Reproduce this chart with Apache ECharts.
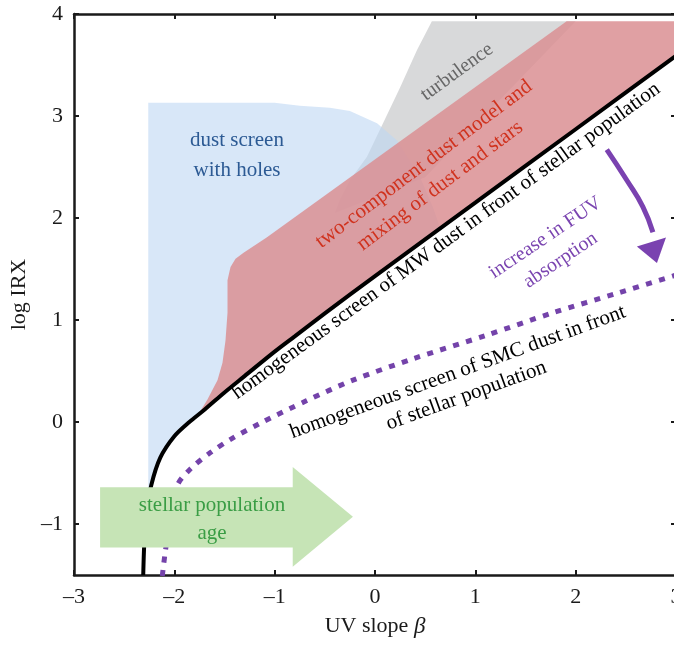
<!DOCTYPE html>
<html>
<head>
<meta charset="utf-8">
<script src="https://cdn.jsdelivr.net/npm/echarts@6/dist/echarts.min.js"></script>
<style>html,body{margin:0;padding:0;background:#fff}#chart{width:674px;height:646px}</style>
</head>
<body>
<div id="chart"></div>
<script>
// ---- data (UV slope beta, log IRX) ----
var xTicks = [-3, -2, -1, 0, 1, 2, 3];
var yTicks = [-1, 0, 1, 2, 3, 4];

// homogeneous screen of MW dust (black curve)
var mwCurve = [[-2.31,-1.5],[-2.30,-1.2],[-2.28,-0.9],[-2.23,-0.62],[-2.14,-0.35],[-2.0,-0.14],[-1.85,0.0],[-1.7,0.12],[-1.5,0.29],[-1.3,0.45],[-1.0,0.69],[-0.8,0.84],[-0.5,1.065],[0,1.43],[1,2.15],[2,2.87],[3,3.59]];

// homogeneous screen of SMC dust (purple dotted curve)
var smcCurve = [[-2.12,-1.51],[-2.09,-1.27],[-2.04,-0.95],[-1.97,-0.62],[-1.84,-0.46],[-1.64,-0.30],[-1.44,-0.17],[-1.14,-0.01],[-0.68,0.21],[-0.22,0.41],[0.38,0.62],[1.11,0.85],[1.77,1.07],[2.44,1.27],[3.0,1.44]];

// dust screen with holes (blue region outline, upper part)
var dustScreenEdge = [[-2.26,-0.75],[-2.26,3.13],[-1.0,3.13],[-0.75,3.10],[-0.45,3.08],[-0.25,3.05],[0.02,2.93],[0.22,2.76],[0.32,2.60],[0.45,2.40],[0.58,2.10],[0.65,1.90]];

// turbulence (grey region)
var turbulenceRegion = [[0.567,3.93],[2.0,3.93],[0.5,2.4],[-0.4,2.05],[-0.35,2.18],[-0.25,2.37],[-0.08,2.60],[0.08,2.93],[0.25,3.28],[0.42,3.65]];

// two-component dust model (red region, upper/left outline)
var twoComponentEdge = [[-1.77,0.06],[-1.67,0.22],[-1.57,0.41],[-1.52,0.58],[-1.49,0.80],[-1.47,1.07],[-1.47,1.39],[-1.44,1.52],[-1.39,1.60],[-1.31,1.66],[-1.08,1.81],[1.91,3.93],[3.0,3.93]];

// stellar population age arrow (green)
var ageArrow = [[-2.74,-0.64],[-0.82,-0.64],[-0.82,-0.44],[-0.22,-0.93],[-0.82,-1.42],[-0.82,-1.23],[-2.74,-1.23]];

// increase in FUV absorption arrow (purple)
var fuvArrowShaft = [[2.31,2.67],[2.51,2.37],[2.67,2.11],[2.77,1.86]];
var fuvArrowHead = [[2.61,1.72],[2.90,1.81],[2.81,1.56]];

function fmt(v){ return v < 0 ? '\u2013' + Math.abs(v) : String(v); }

var blueRegion = dustScreenEdge.concat(
  mwCurve.filter(function(p){ return p[0] <= 0.65 && p[0] > -2.26; }).slice().reverse()
);
var redRegion = twoComponentEdge.concat(
  mwCurve.filter(function(p){ return p[0] >= -1.77; }).slice().reverse()
);

function polygonSeries(name, pts, color, opacity, z) {
  return {
    type: 'custom', name: name, z: z, silent: true, clip: true,
    coordinateSystem: 'cartesian2d', xAxisIndex: 0, yAxisIndex: 0,
    data: [[pts[0][0], pts[0][1]]],
    renderItem: function (params, api) {
      return {
        type: 'polygon',
        shape: { points: pts.map(function(p){ return api.coord(p); }) },
        style: { fill: color, opacity: opacity }
      };
    }
  };
}

var SERIF = '"Liberation Serif","DejaVu Serif",serif';
var axisCol = '#1a1a1a';

var chart = echarts.init(document.getElementById('chart'), null, {renderer: 'canvas'});

function baseX(extra){
  return Object.assign({
    type: 'value', min: -3, max: 3, interval: 1,
    axisLine: { show: true, onZero: false, lineStyle: { color: axisCol, width: 2.5 } },
    axisTick: { show: true, inside: true, length: 5, lineStyle: { color: axisCol, width: 2 } },
    splitLine: { show: false }
  }, extra);
}
function baseY(extra){
  return Object.assign({
    type: 'value', min: -1.5, max: 4,
    axisLine: { show: true, onZero: false, lineStyle: { color: axisCol, width: 2.5 } },
    axisTick: { show: true, inside: true, length: 5, customValues: yTicks, lineStyle: { color: axisCol, width: 2 } },
    splitLine: { show: false }
  }, extra);
}

var option = {
  animation: false,
  backgroundColor: '#fff',
  grid: { left: 74, top: 14, width: 602, height: 561, containLabel: false, outerBoundsMode: 'none' },
  xAxis: [
    baseX({ position: 'bottom',
      axisLabel: { show: true, fontFamily: SERIF, fontSize: 22, color: axisCol, margin: 11, formatter: fmt },
      name: '{a|UV slope }{b|\u03b2}', nameLocation: 'middle', nameGap: 40,
      nameTextStyle: { rich: { a: { fontFamily: SERIF, fontSize: 22, color: axisCol }, b: { fontFamily: SERIF, fontSize: 23, fontStyle: 'italic', color: axisCol } } }
    }),
    baseX({ position: 'top', axisLabel: { show: false } })
  ],
  yAxis: [
    baseY({ position: 'left',
      axisLabel: { show: true, customValues: yTicks, fontFamily: SERIF, fontSize: 22, color: axisCol, margin: 11,
        formatter: function(v){ return Math.abs(v - Math.round(v)) < 1e-9 ? fmt(v) : ''; } },
      name: 'log IRX', nameLocation: 'middle', nameGap: 38, nameRotate: 90,
      nameTextStyle: { fontFamily: SERIF, fontSize: 22, color: axisCol }
    }),
    baseY({ position: 'right', axisLabel: { show: false } })
  ],
  series: [
    polygonSeries('turbulence', turbulenceRegion, '#cbccce', 0.75, 1),
    polygonSeries('dust screen with holes', blueRegion, 'rgb(190,215,243)', 0.6, 2),
    polygonSeries('two-component dust model', redRegion, 'rgb(218,143,147)', 0.85, 3),
    {
      type: 'line', name: 'MW', data: mwCurve, z: 4, smooth: 0.3, showSymbol: false, silent: true,
      lineStyle: { color: '#000', width: 4 }
    },
    {
      type: 'line', name: 'SMC', data: smcCurve, z: 4, smooth: 0.3, showSymbol: false, silent: true,
      lineStyle: { color: '#7443aa', width: 5, type: [6, 7.5], cap: 'butt' }
    },
    polygonSeries('stellar population age', ageArrow, '#c6e4b6', 1, 5),
    {
      type: 'line', name: 'FUV arrow', data: fuvArrowShaft, z: 5, smooth: 0.5, showSymbol: false, silent: true,
      lineStyle: { color: '#7a42b0', width: 5 }
    },
    polygonSeries('FUV arrow head', fuvArrowHead, '#7a42b0', 1, 5)
  ],
  graphic: [
    { type: 'text', x: 237, y: 155, z: 100, style: { text: 'dust screen\nwith holes', font: '21px ' + SERIF, fill: '#2c5a94', align: 'center', verticalAlign: 'middle', lineHeight: 30 } },
    { type: 'text', x: 457, y: 72, rotation: 36 * Math.PI / 180, z: 100, style: { text: 'turbulence', font: '20px ' + SERIF, fill: '#666', align: 'center', verticalAlign: 'middle' } },
    { type: 'text', x: 432, y: 175, rotation: 37 * Math.PI / 180, z: 100, style: { text: 'two-component dust model and\nmixing of dust and stars', font: '21px ' + SERIF, fill: '#d0321e', align: 'center', verticalAlign: 'middle', lineHeight: 27 } },
    { type: 'text', x: 446, y: 241, rotation: 36 * Math.PI / 180, z: 100, style: { text: 'homogeneous screen of MW dust in front of stellar population', font: '21px ' + SERIF, fill: '#000', align: 'center', verticalAlign: 'middle' } },
    { type: 'text', x: 553, y: 249, rotation: 34 * Math.PI / 180, z: 100, style: { text: 'increase in FUV\nabsorption', font: '20px ' + SERIF, fill: '#7a44b0', align: 'center', verticalAlign: 'middle', lineHeight: 27 } },
    { type: 'text', x: 462, y: 384, rotation: 20 * Math.PI / 180, z: 100, style: { text: 'homogeneous screen of SMC dust in front\nof stellar population', font: '21px ' + SERIF, fill: '#000', align: 'center', verticalAlign: 'middle', lineHeight: 25 } },
    { type: 'text', x: 212, y: 519, z: 100, style: { text: 'stellar population\nage', font: '21px ' + SERIF, fill: '#3a9d45', align: 'center', verticalAlign: 'middle', lineHeight: 28 } }
  ]
};
chart.setOption(option);
</script>
</body>
</html>
